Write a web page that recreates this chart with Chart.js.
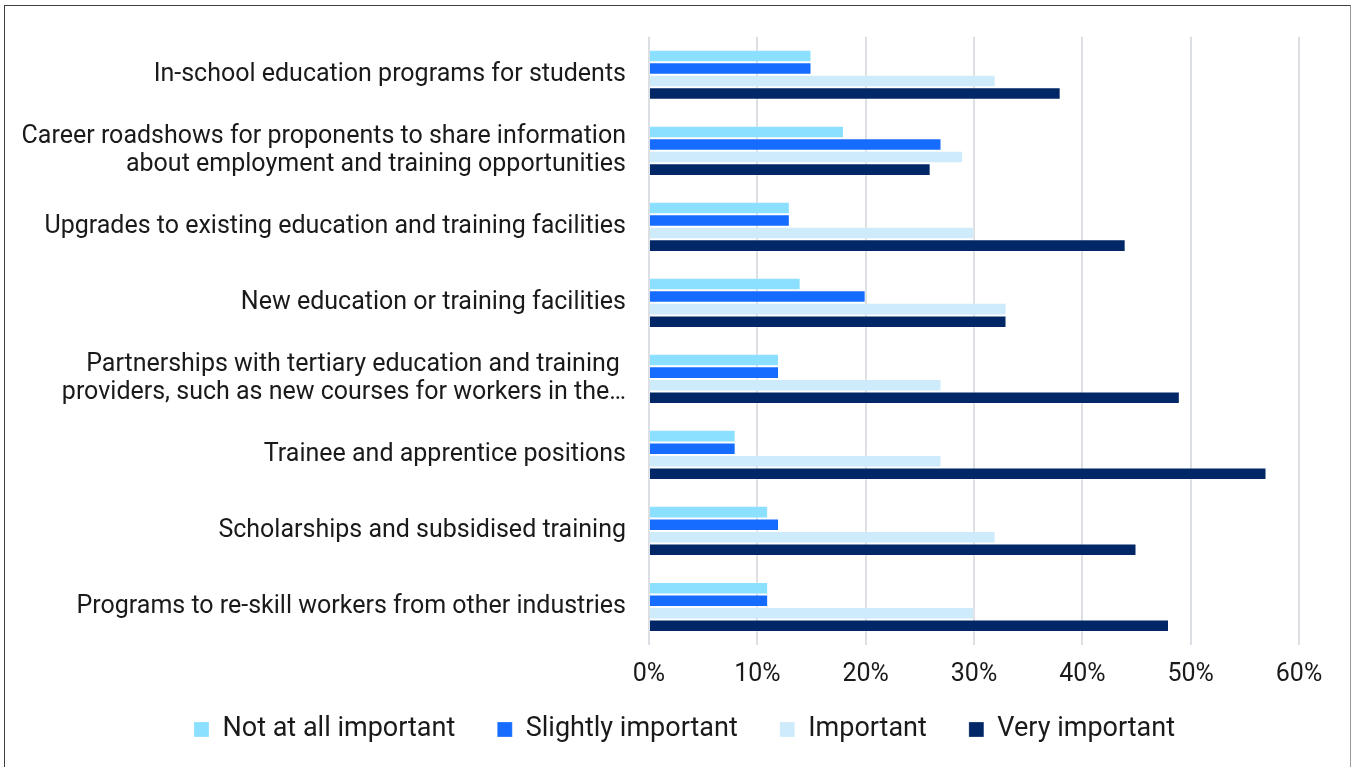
<!DOCTYPE html>
<html>
<head>
<meta charset="utf-8">
<script src="https://cdn.jsdelivr.net/npm/chart.js@4/dist/chart.umd.min.js"></script>
<style>
  html, body { margin: 0; padding: 0; background: #fff; }
  #wrap { position: absolute; left: 0; top: 0; width: 1355px; height: 767px; }
  #frame { position: absolute; left: 4px; top: 5px; width: 1347px; height: 780px;
           border: 1.5px solid #3f3f3f; border-right-color: #9a9a9a; pointer-events: none; box-sizing: border-box; }
</style>
</head>
<body>
<div id="wrap"><canvas id="c" width="1355" height="767"></canvas></div>
<div id="frame"></div>
<script>
const categories = [
  "In-school education programs for students",
  ["Career roadshows for proponents to share information", "about employment and training opportunities"],
  "Upgrades to existing education and training facilities",
  "New education or training facilities",
  ["Partnerships with tertiary education and training ", "providers, such as new courses for workers in the…"],
  "Trainee and apprentice positions",
  "Scholarships and subsidised training",
  "Programs to re-skill workers from other industries"
];
const seriesNames = ["Not at all important", "Slightly important", "Important", "Very important"];
const notAtAll   = [15, 18, 13, 14, 12,  8, 11, 11];
const slightly   = [15, 27, 13, 20, 12,  8, 12, 11];
const important  = [32, 29, 30, 33, 27, 27, 32, 30];
const very       = [38, 26, 44, 33, 49, 57, 45, 48];
const xTicks = [0, 10, 20, 30, 40, 50, 60];
const colors = ["#8bdfff", "#166cff", "#cdebfb", "#022766"];

const FONT = "Roboto, 'Liberation Sans', sans-serif";
const values = [notAtAll, slightly, important, very];

const legendPlacer = {
  id: 'legendPlacer',
  afterLayout(chart) {
    const lg = chart.legend;
    if (!lg) return;
    const h = lg.bottom - lg.top;
    lg.top = 674;
    lg.bottom = lg.top + h;
    lg.left += 35;
    lg.right += 35;
  }
};

new Chart(document.getElementById('c'), {
  type: 'bar',
  data: {
    labels: categories,
    datasets: seriesNames.map((n, i) => ({
      label: n,
      data: values[i],
      backgroundColor: colors[i],
      borderColor: 'rgba(255,255,255,0.25)',
      borderWidth: 1,
      categoryPercentage: 0.66,
      barPercentage: 1.0
    }))
  },
  plugins: [legendPlacer],
  options: {
    indexAxis: 'y',
    responsive: false,
    animation: false,
    layout: { padding: { left: 0, right: 56, top: 36, bottom: 0 } },
    scales: {
      x: {
        min: 0, max: 60,
        afterBuildTicks: (s) => { s.ticks = xTicks.map(v => ({ value: v })); },
        afterFit: (s) => { s.height = 43; },
        grid: { color: '#dcdfe3', lineWidth: 2, drawTicks: false },
        border: { display: false },
        ticks: {
          padding: 15,
          color: '#1a1a1a',
          font: { family: FONT, size: 25 },
          callback: (v) => v + '%'
        }
      },
      y: {
        afterFit: (s) => { s.width = 649; },
        grid: { display: false, drawTicks: false },
        border: { display: false },
        ticks: {
          padding: 23,
          color: '#1a1a1a',
          font: { family: FONT, size: 25, lineHeight: 1.1 }
        }
      }
    },
    plugins: {
      legend: {
        position: 'bottom',
        labels: {
          boxWidth: 15,
          boxHeight: 15,
          padding: 42,
          color: '#1a1a1a',
          font: { family: FONT, size: 27 }
        }
      },
      tooltip: { enabled: false }
    }
  }
});
</script>
</body>
</html>
